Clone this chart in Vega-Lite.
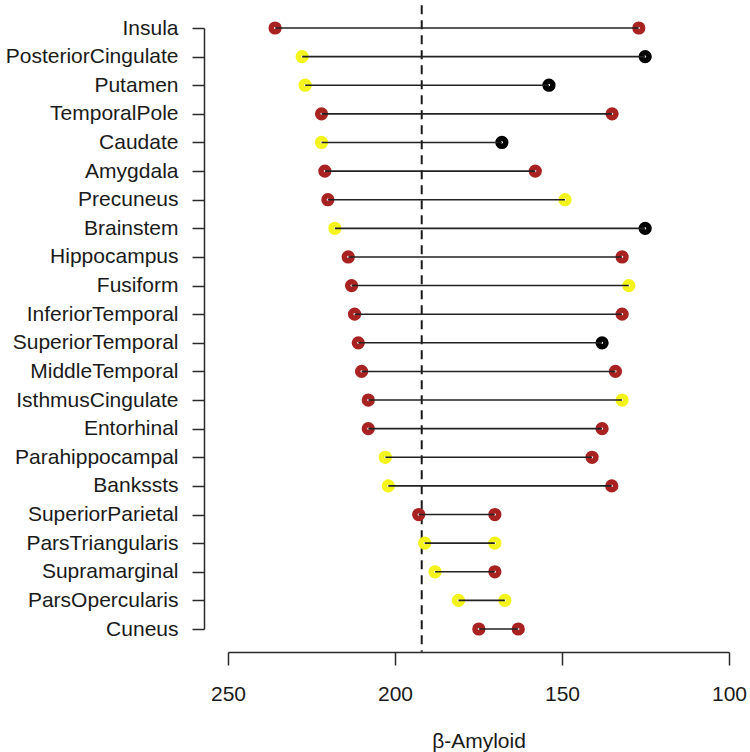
{
  "$schema": "https://vega.github.io/schema/vega-lite/v6.json",
  "autosize": {"type": "none"},
  "padding": {"left": 228, "top": 28, "right": 21, "bottom": 123},
  "width": 501,
  "height": 601,
  "background": "white",
  "config": {
    "view": {"stroke": null},
    "font": "Liberation Sans",
    "axis": {"grid": false, "labelFont": "Liberation Sans", "titleFont": "Liberation Sans", "labelColor": "#1a1a1a", "titleColor": "#1a1a1a", "domainColor": "#2a2a2a", "tickColor": "#2a2a2a", "domainWidth": 1.5, "tickWidth": 1.5}
  },
  "datasets": {
    "regions": [
      {"region": "Insula", "low": 235.9, "lowGroup": "A", "high": 127.0, "highGroup": "A"},
      {"region": "PosteriorCingulate", "low": 227.8, "lowGroup": "B", "high": 125.1, "highGroup": "C"},
      {"region": "Putamen", "low": 226.9, "lowGroup": "B", "high": 153.9, "highGroup": "C"},
      {"region": "TemporalPole", "low": 222.0, "lowGroup": "A", "high": 135.0, "highGroup": "A"},
      {"region": "Caudate", "low": 222.0, "lowGroup": "B", "high": 168.0, "highGroup": "C"},
      {"region": "Amygdala", "low": 221.0, "lowGroup": "A", "high": 158.0, "highGroup": "A"},
      {"region": "Precuneus", "low": 220.1, "lowGroup": "A", "high": 149.1, "highGroup": "B"},
      {"region": "Brainstem", "low": 218.0, "lowGroup": "B", "high": 125.1, "highGroup": "C"},
      {"region": "Hippocampus", "low": 214.0, "lowGroup": "A", "high": 132.0, "highGroup": "A"},
      {"region": "Fusiform", "low": 213.0, "lowGroup": "A", "high": 130.0, "highGroup": "B"},
      {"region": "InferiorTemporal", "low": 212.1, "lowGroup": "A", "high": 132.0, "highGroup": "A"},
      {"region": "SuperiorTemporal", "low": 211.0, "lowGroup": "A", "high": 138.0, "highGroup": "C"},
      {"region": "MiddleTemporal", "low": 210.0, "lowGroup": "A", "high": 134.0, "highGroup": "A"},
      {"region": "IsthmusCingulate", "low": 208.0, "lowGroup": "A", "high": 132.0, "highGroup": "B"},
      {"region": "Entorhinal", "low": 208.0, "lowGroup": "A", "high": 138.0, "highGroup": "A"},
      {"region": "Parahippocampal", "low": 202.9, "lowGroup": "B", "high": 141.0, "highGroup": "A"},
      {"region": "Bankssts", "low": 202.0, "lowGroup": "B", "high": 135.1, "highGroup": "A"},
      {"region": "SuperiorParietal", "low": 192.9, "lowGroup": "A", "high": 170.1, "highGroup": "A"},
      {"region": "ParsTriangularis", "low": 191.1, "lowGroup": "B", "high": 170.1, "highGroup": "B"},
      {"region": "Supramarginal", "low": 188.0, "lowGroup": "B", "high": 170.1, "highGroup": "A"},
      {"region": "ParsOpercularis", "low": 181.0, "lowGroup": "B", "high": 167.1, "highGroup": "B"},
      {"region": "Cuneus", "low": 174.9, "lowGroup": "A", "high": 163.1, "highGroup": "A"}
    ],
    "threshold": [{"cutoff": 192}]
  },
  "layer": [
    {
      "data": {"name": "threshold"},
      "mark": {"type": "rule", "strokeDash": [9, 6], "strokeWidth": 2, "color": "#1a1a1a"},
      "encoding": {
        "x": {"field": "cutoff", "type": "quantitative", "scale": {"domain": [100, 250], "reverse": true, "nice": false, "zero": false}},
        "y": {"datum": 1.038, "type": "quantitative", "scale": {"domain": [0, 1], "nice": false}, "axis": null},
        "y2": {"datum": -0.038}
      }
    },
    {
      "data": {"name": "regions"},
      "layer": [
        {
          "mark": {"type": "point", "shape": "circle", "filled": false, "size": 60, "strokeWidth": 5.5, "opacity": 1},
          "encoding": {
            "x": {"field": "low", "type": "quantitative"},
            "color": {"field": "lowGroup", "type": "nominal", "scale": {"domain": ["A", "B", "C"], "range": ["#a82222", "#f4f41c", "#000000"]}, "legend": null}
          }
        },
        {
          "mark": {"type": "point", "shape": "circle", "filled": false, "size": 60, "strokeWidth": 5.5, "opacity": 1},
          "encoding": {
            "x": {"field": "high", "type": "quantitative"},
            "color": {"field": "highGroup", "type": "nominal", "scale": {"domain": ["A", "B", "C"], "range": ["#a82222", "#f4f41c", "#000000"]}, "legend": null}
          }
        },
        {
          "mark": {"type": "rule", "strokeWidth": 1.6, "color": "#222222"},
          "encoding": {
            "x": {"field": "low", "type": "quantitative"},
            "x2": {"field": "high"}
          }
        }
      ],
      "encoding": {
        "y": {
          "field": "region", "type": "nominal", "sort": null,
          "scale": {"type": "point", "padding": 0},
          "axis": {"title": null, "offset": 24, "tickSize": 12, "labelPadding": 14, "labelFontSize": 21, "labelLimit": 400}
        },
        "x": {
          "axis": {"title": "β-Amyloid", "values": [250, 200, 150, 100], "offset": 23, "tickSize": 13, "labelPadding": 18, "labelFontSize": 21, "titleFontSize": 21, "titleFontWeight": "normal", "titlePadding": 26, "labelFlush": false}
        }
      }
    }
  ],
  "resolve": {"scale": {"y": "independent"}}
}
